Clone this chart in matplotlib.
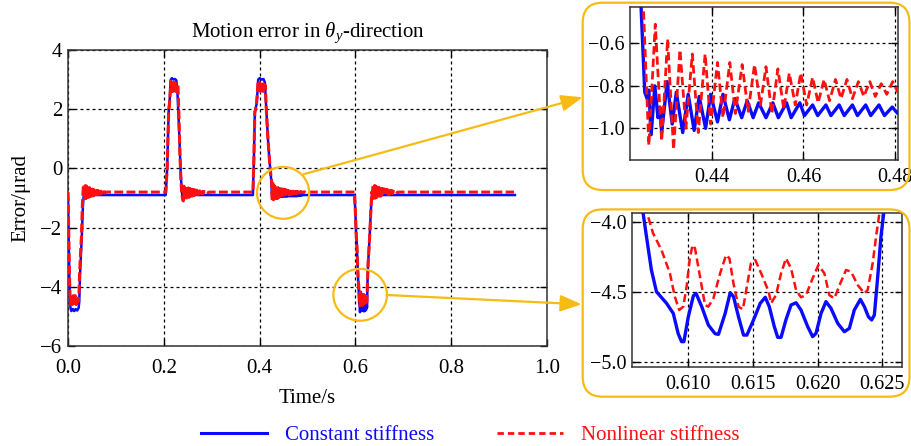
import matplotlib
matplotlib.use("Agg")
import matplotlib.pyplot as plt
import numpy as np
from matplotlib.patches import Ellipse, FancyBboxPatch
from matplotlib.lines import Line2D

plt.rcParams['font.family'] = ['Liberation Serif', 'DejaVu Serif']
plt.rcParams['mathtext.fontset'] = 'custom'
plt.rcParams['mathtext.rm'] = 'Liberation Serif'
plt.rcParams['mathtext.it'] = 'Liberation Serif:italic'

# ---------------- data ----------------
# constant stiffness (blue), by segment
blue_t_dip1 = [0.000, 0.001, 0.002, 0.003, 0.004, 0.005, 0.007, 0.010, 0.013, 0.016, 0.019, 0.022, 0.0235, 0.025, 0.027, 0.029, 0.031, 0.033]
blue_y_dip1 = [-1.0, -2.0, -3.2, -3.9, -4.4, -4.7, -4.82, -4.75, -4.82, -4.75, -4.8, -4.72, -4.5, -3.6, -2.9, -2.2, -1.3, -0.85]
blue_t_ring1 = [0.035, 0.037, 0.039, 0.041, 0.043, 0.045, 0.047, 0.050, 0.053, 0.056, 0.060, 0.204]
blue_y_ring1 = [-1.0, -0.84, -0.98, -0.86, -0.96, -0.87, -0.94, -0.88, -0.93, -0.89, -0.9, -0.9]
blue_t_peak1 = [0.207, 0.210, 0.2125, 0.2145, 0.217, 0.220, 0.223, 0.226, 0.2286, 0.2321, 0.2356, 0.2385]
blue_y_peak1 = [0.0, 1.9, 2.4, 3.0, 3.05, 3.0, 3.02, 2.98, 2.5, 1.2, -0.3, -0.95]
blue_t_ring2 = [0.241, 0.243, 0.245, 0.247, 0.249, 0.252, 0.255, 0.258, 0.262, 0.266, 0.270, 0.386]
blue_y_ring2 = [-1.02, -0.85, -0.99, -0.86, -0.96, -0.87, -0.94, -0.88, -0.92, -0.89, -0.9, -0.9]
blue_t_peak2 = [0.388, 0.390, 0.394, 0.397, 0.400, 0.404, 0.408, 0.411, 0.4139, 0.4174, 0.4195, 0.4225]
blue_y_peak2 = [0.3, 1.9, 2.2, 3.0, 3.05, 3.0, 3.02, 2.9, 2.0, 1.0, 0.5, -0.1]
blue_t_zoom1 = [0.4245, 0.4253, 0.4258, 0.4262, 0.4267, 0.4275, 0.4282, 0.4286, 0.4290,
                0.4302, 0.4313, 0.4318, 0.4322, 0.4336, 0.4348, 0.4361, 0.4372, 0.4386, 0.4397,
                0.4412, 0.4424, 0.4438, 0.4450, 0.4465, 0.4477, 0.4490, 0.4502, 0.4518, 0.4533,
                0.4545, 0.4563, 0.4573, 0.4592, 0.4602, 0.4620, 0.4631, 0.4649, 0.4660, 0.4678,
                0.4689, 0.4707, 0.4718, 0.4736, 0.4747, 0.4765, 0.4777, 0.4794, 0.4806]
blue_y_zoom1 = [-0.43, -0.83, -0.86, -0.82, -1.03, -0.80, -0.95, -0.90, -1.02,
                -0.78, -0.98, -0.90, -0.83, -1.02, -0.84, -1.01, -0.85, -1.00, -0.84,
                -0.97, -0.84, -0.96, -0.86, -0.95, -0.87, -0.95, -0.88, -0.95, -0.88,
                -0.95, -0.88, -0.95, -0.88, -0.94, -0.89, -0.94, -0.89, -0.94, -0.89,
                -0.94, -0.89, -0.94, -0.89, -0.94, -0.89, -0.94, -0.90, -0.93]
blue_t_tail = [0.4820, 0.4835, 0.4850, 0.4870, 0.4900, 0.5980]
blue_y_tail = [-0.91, -0.93, -0.90, -0.92, -0.90, -0.90]
blue_t_lead3 = [0.6000, 0.6015, 0.6030, 0.6045, 0.6058]
blue_y_lead3 = [-1.5, -2.2, -2.6, -3.3, -3.8]
blue_t_zoom2 = [0.60651, 0.60677, 0.60715, 0.60754, 0.60832, 0.60884, 0.60922, 0.60948, 0.60966, 0.6100,
                0.61039, 0.6106, 0.61104, 0.61155, 0.61207, 0.61233, 0.61285, 0.61324, 0.6135, 0.61388,
                0.61427, 0.61453, 0.61505, 0.61556, 0.61595, 0.61626, 0.61665, 0.61691, 0.61717, 0.61755,
                0.61794, 0.61833, 0.61871, 0.61923, 0.61961, 0.61987, 0.62026, 0.62064, 0.62103, 0.62155,
                0.62206, 0.62245, 0.62283, 0.6233, 0.62361, 0.62392, 0.62417, 0.62438, 0.62464, 0.62489, 0.6251]
blue_y_zoom2 = [-3.94, -4.107, -4.345, -4.5, -4.583, -4.655, -4.80, -4.857, -4.857, -4.68,
                -4.53, -4.512, -4.607, -4.738, -4.80, -4.805, -4.655, -4.507, -4.536, -4.679,
                -4.81, -4.81, -4.70, -4.583, -4.54, -4.607, -4.75, -4.826, -4.826, -4.70,
                -4.595, -4.579, -4.631, -4.75, -4.821, -4.798, -4.655, -4.571, -4.619, -4.726,
                -4.786, -4.762, -4.631, -4.555, -4.607, -4.679, -4.702, -4.667, -4.393, -4.107, -3.94]
blue_t_rise3 = [0.6265, 0.6280, 0.6300, 0.6320, 0.6340, 0.6360, 0.6380, 0.6400, 0.6430, 0.6460, 0.6500, 0.9330]
blue_y_rise3 = [-3.2, -2.8, -2.2, -1.5, -0.95, -0.85, -0.97, -0.86, -0.94, -0.88, -0.9, -0.9]

# nonlinear stiffness (red), by segment
red_t_dip1 = [0.000, 0.001, 0.002, 0.003, 0.004, 0.005, 0.007, 0.009, 0.011, 0.013, 0.015, 0.017, 0.019, 0.021, 0.023, 0.024, 0.026, 0.028, 0.030, 0.032]
red_y_dip1 = [-0.8, -1.8, -3.0, -3.6, -4.2, -4.6, -4.3, -4.6, -4.3, -4.55, -4.3, -4.6, -4.35, -4.5, -4.2, -3.6, -2.9, -2.3, -1.2, -0.6]
red_t_ring1 = [0.0330, 0.0345, 0.0360, 0.0375, 0.0390, 0.0405, 0.0420, 0.0435, 0.0450, 0.0465,
               0.0480, 0.0495, 0.0510, 0.0525, 0.0540, 0.0555, 0.0570, 0.0585, 0.0600, 0.0615,
               0.0630, 0.0645, 0.0660, 0.0675, 0.0690, 0.0705, 0.0720, 0.0735, 0.0750, 0.0765,
               0.0780, 0.0800, 0.2040]
red_y_ring1 = [-0.55, -1.00, -0.58, -1.02, -0.60, -0.98, -0.63, -0.97, -0.65, -0.95,
               -0.68, -0.93, -0.70, -0.92, -0.72, -0.90, -0.73, -0.89, -0.74, -0.88,
               -0.75, -0.87, -0.76, -0.86, -0.77, -0.85, -0.78, -0.84, -0.79, -0.83,
               -0.80, -0.80, -0.80]
red_t_peak1 = [0.2070, 0.2100, 0.2125, 0.2145, 0.2160, 0.2175, 0.2190, 0.2205, 0.2220, 0.2235, 0.2250, 0.2265, 0.2280, 0.2295, 0.2315, 0.2335, 0.2355, 0.2375]
red_y_peak1 = [0.0, 1.9, 2.3, 2.95, 2.6, 2.9, 2.6, 2.9, 2.65, 2.9, 2.6, 2.85, 2.6, 2.8, 1.8, 0.5, -0.3, -0.9]
red_t_ring2 = [0.2405, 0.2420, 0.2435, 0.2450, 0.2465, 0.2480, 0.2495, 0.2510, 0.2525, 0.2540,
               0.2555, 0.2570, 0.2585, 0.2600, 0.2615, 0.2630, 0.2645, 0.2660, 0.2675, 0.2690,
               0.2705, 0.2720, 0.2735, 0.2750, 0.2765, 0.2780, 0.2795, 0.2810, 0.2825, 0.2840,
               0.2870, 0.2900, 0.2930, 0.2960, 0.3860]
red_y_ring2 = [-1.10, -0.60, -1.08, -0.62, -1.05, -0.64, -1.00, -0.66, -0.98, -0.68,
               -0.96, -0.70, -0.94, -0.71, -0.92, -0.72, -0.90, -0.73, -0.89, -0.74,
               -0.88, -0.75, -0.87, -0.76, -0.86, -0.77, -0.85, -0.78, -0.84, -0.78,
               -0.83, -0.79, -0.82, -0.80, -0.80]
red_t_peak2 = [0.3880, 0.3900, 0.3930, 0.3950, 0.3970, 0.3985, 0.4000, 0.4015, 0.4030, 0.4045, 0.4060, 0.4075, 0.4090, 0.4105, 0.4120, 0.4139, 0.4174, 0.4195, 0.4225]
red_y_peak2 = [0.3, 1.9, 2.1, 2.5, 2.95, 2.6, 2.9, 2.6, 2.9, 2.65, 2.85, 2.6, 2.85, 2.6, 2.8, 2.0, 1.0, 0.5, -0.1]
red_t_zoom1 = [0.4250, 0.4262, 0.4276, 0.4290, 0.4303, 0.4316, 0.4330, 0.4343, 0.4357, 0.4370,
               0.4385, 0.4397, 0.4412, 0.4424, 0.4439, 0.4451, 0.4466, 0.4479, 0.4493, 0.4506,
               0.4518, 0.4531, 0.4544, 0.4557, 0.4569, 0.4582, 0.4594, 0.4607, 0.4620, 0.4632,
               0.4645, 0.4657, 0.4670, 0.4682, 0.4695, 0.4707, 0.4720, 0.4732, 0.4745, 0.4757,
               0.4770, 0.4782, 0.4795, 0.4806]
red_y_zoom1 = [-0.43, -1.08, -0.51, -1.06, -0.58, -1.10, -0.63, -1.00, -0.65, -1.02,
               -0.65, -0.98, -0.69, -0.95, -0.69, -0.93, -0.70, -0.92, -0.70, -0.89,
               -0.71, -0.93, -0.72, -0.91, -0.74, -0.89, -0.74, -0.89, -0.76, -0.88,
               -0.77, -0.87, -0.77, -0.86, -0.77, -0.86, -0.78, -0.85, -0.78, -0.85,
               -0.79, -0.84, -0.78, -0.83]
red_t_tail = [0.4820, 0.4832, 0.4845, 0.4857, 0.4870, 0.4900, 0.4930, 0.4960, 0.5000, 0.5980]
red_y_tail = [-0.79, -0.83, -0.79, -0.82, -0.79, -0.82, -0.79, -0.81, -0.80, -0.80]
red_t_lead3 = [0.6000, 0.6015, 0.6030, 0.6045, 0.6058]
red_y_lead3 = [-1.5, -2.2, -2.6, -3.3, -3.8]
red_t_zoom2 = [0.60682, 0.60728, 0.60793, 0.60858, 0.60896, 0.6093, 0.60961, 0.60987, 0.61013, 0.61034,
               0.61052, 0.61091, 0.61129, 0.61155, 0.61194, 0.61246, 0.61292, 0.61318, 0.61349, 0.61388,
               0.61422, 0.61453, 0.61484, 0.61518, 0.61569, 0.61621, 0.6164, 0.61678, 0.61717, 0.61755,
               0.61794, 0.61833, 0.61871, 0.6191, 0.61961, 0.62005, 0.62052, 0.6209, 0.62129, 0.62175,
               0.62219, 0.62258, 0.62309, 0.62361, 0.62386, 0.62425, 0.62451, 0.62477]
red_y_zoom2 = [-3.94, -4.083, -4.202, -4.369, -4.536, -4.631, -4.607, -4.464, -4.25, -4.167,
               -4.19, -4.393, -4.595, -4.607, -4.548, -4.369, -4.238, -4.262, -4.44, -4.607,
               -4.626, -4.464, -4.298, -4.274, -4.381, -4.5, -4.583, -4.524, -4.369, -4.262,
               -4.333, -4.488, -4.54, -4.524, -4.405, -4.31, -4.369, -4.524, -4.548, -4.44,
               -4.345, -4.357, -4.452, -4.512, -4.488, -4.298, -4.107, -3.94]
red_t_rise3 = [0.6265, 0.6280, 0.6300, 0.6320, 0.6340]
red_y_rise3 = [-3.2, -2.8, -2.2, -1.5, -0.8]
red_t_ring3 = [0.6355, 0.6370, 0.6385, 0.6400, 0.6415, 0.6430, 0.6445, 0.6460, 0.6475, 0.6490,
               0.6505, 0.6520, 0.6535, 0.6550, 0.6565, 0.6580, 0.6595, 0.6610, 0.6625, 0.6640,
               0.6655, 0.6670, 0.6685, 0.6700, 0.6715, 0.6730, 0.6745, 0.6760, 0.6775, 0.6790,
               0.6820, 0.6850, 0.6880, 0.6910, 0.9310]
red_y_ring3 = [-1.02, -0.56, -1.05, -0.58, -1.00, -0.60, -0.98, -0.62, -0.96, -0.64,
               -0.94, -0.66, -0.93, -0.68, -0.92, -0.69, -0.91, -0.70, -0.90, -0.71,
               -0.89, -0.72, -0.88, -0.73, -0.87, -0.74, -0.86, -0.75, -0.85, -0.77,
               -0.83, -0.78, -0.82, -0.80, -0.80]

labels = ['Constant stiffness', 'Nonlinear stiffness']
main_xticks = [0.0, 0.2, 0.4, 0.6, 0.8, 1.0]
main_yticks = [-6, -4, -2, 0, 2, 4]
zoom1_xticks = [0.44, 0.46, 0.48]
zoom1_yticks = [-1.0, -0.8, -0.6]
zoom2_xticks = [0.610, 0.615, 0.620, 0.625]
zoom2_yticks = [-5.0, -4.5, -4.0]

t_blue = np.concatenate([blue_t_dip1, blue_t_ring1, blue_t_peak1, blue_t_ring2, blue_t_peak2,
                         blue_t_zoom1, blue_t_tail, blue_t_lead3, blue_t_zoom2, blue_t_rise3])
y_blue = np.concatenate([blue_y_dip1, blue_y_ring1, blue_y_peak1, blue_y_ring2, blue_y_peak2,
                         blue_y_zoom1, blue_y_tail, blue_y_lead3, blue_y_zoom2, blue_y_rise3])
t_red = np.concatenate([red_t_dip1, red_t_ring1, red_t_peak1, red_t_ring2, red_t_peak2,
                        red_t_zoom1, red_t_tail, red_t_lead3, red_t_zoom2, red_t_rise3, red_t_ring3])
y_red = np.concatenate([red_y_dip1, red_y_ring1, red_y_peak1, red_y_ring2, red_y_peak2,
                        red_y_zoom1, red_y_tail, red_y_lead3, red_y_zoom2, red_y_rise3, red_y_ring3])

BLUE = '#0a0aff'
RED = '#ff1010'
GOLD = '#f6bb14'

def fmt(v, nd):
    return ('%.*f' % (nd, v)).replace('-', '\u2212')

def style_axes(ax, fs, xpad, ypad):
    ax.grid(True, color='k', lw=0.9, linestyle=(0, (2.4, 2.4)))
    ax.set_axisbelow(True)
    ax.tick_params(direction='in', length=5, width=1, top=True, right=True, labelsize=fs)
    ax.tick_params(axis='x', pad=xpad)
    ax.tick_params(axis='y', pad=ypad)
    for s in ax.spines.values():
        s.set_color('#333333')
        s.set_linewidth(1.1)

fig = plt.figure(figsize=(9.12, 4.46), dpi=100)

# main plot
ax = fig.add_axes([0.0746, 0.2242, 0.5252, 0.6637])
ax.plot(t_blue, y_blue, color=BLUE, lw=1.8, zorder=3)
ax.plot(t_red, y_red, color=RED, lw=2.2, dashes=(2.9, 1.1), zorder=4)
ax.set_xlim(0, 1)
ax.set_ylim(-6, 4)
ax.set_xticks(main_xticks)
ax.set_xticklabels([fmt(v, 1) for v in main_xticks])
ax.set_yticks(main_yticks)
ax.set_yticklabels([fmt(v, 0) for v in main_yticks])
style_axes(ax, 15, 9, 4)
ax.set_title(r'Motion error in $\theta_y$-direction', fontsize=15, pad=9)
ax.set_xlabel('Time/s', fontsize=15, labelpad=8)
ax.set_ylabel('Error/\u03bcrad', fontsize=15, labelpad=7)

ax.add_patch(Ellipse((0.449, -0.826), 0.109, 1.754, fill=False, edgecolor=GOLD, lw=1.6, zorder=6, clip_on=False))
ax.add_patch(Ellipse((0.6099, -4.27), 0.112, 1.754, fill=False, edgecolor=GOLD, lw=1.6, zorder=6, clip_on=False))

# zoom 1
ax1 = fig.add_axes([0.6911, 0.6413, 0.2932, 0.3430])
ax1.plot(t_blue, y_blue, color=BLUE, lw=2.4, zorder=3)
ax1.plot(t_red, y_red, color=RED, lw=2.0, dashes=(3.0, 1.5), zorder=4)
ax1.set_xlim(0.42214, 0.48059)
ax1.set_ylim(-1.149, -0.429)
ax1.set_xticks(zoom1_xticks)
ax1.set_xticklabels([fmt(v, 2) for v in zoom1_xticks])
ax1.set_yticks(zoom1_yticks)
ax1.set_yticklabels([fmt(v, 1) for v in zoom1_yticks])
style_axes(ax1, 14.5, 6, 4)

# zoom 2
ax2 = fig.add_axes([0.6927, 0.1778, 0.2961, 0.3439])
ax2.plot(t_blue, y_blue, color=BLUE, lw=2.4, zorder=3)
ax2.plot(t_red, y_red, color=RED, lw=1.8, dashes=(3.2, 1.6), zorder=4)
ax2.set_xlim(0.60563, 0.6265)
ax2.set_ylim(-5.036, -3.94)
ax2.set_xticks(zoom2_xticks)
ax2.set_xticklabels([fmt(v, 3) for v in zoom2_xticks])
ax2.set_yticks(zoom2_yticks)
ax2.set_yticklabels([fmt(v, 1) for v in zoom2_yticks])
style_axes(ax2, 14.5, 6, 4)

# rounded yellow frames round the zooms (inches from lower left)
for y0 in (2.56, 0.493):
    box = FancyBboxPatch((5.827, y0), 3.268, 1.873, boxstyle='round,pad=0,rounding_size=0.2',
                         transform=fig.dpi_scale_trans, fill=False, edgecolor=GOLD, lw=1.6)
    fig.add_artist(box)

# arrows from circles to the zooms (figure pixels)
H = 446
arrow = dict(arrowstyle='-|>,head_length=1.3,head_width=0.5', color=GOLD, lw=1.6,
             shrinkA=0, shrinkB=0, mutation_scale=10)
ax.annotate('', xy=(582.7, H - 97.3), xytext=(303.3, H - 174.3),
            xycoords='figure pixels', textcoords='figure pixels', arrowprops=arrow)
ax.annotate('', xy=(581.7, H - 304.3), xytext=(386.7, H - 295.0),
            xycoords='figure pixels', textcoords='figure pixels', arrowprops=arrow)

handles = [Line2D([], [], color=BLUE, lw=2.2),
           Line2D([], [], color=RED, lw=2.0, dashes=(2.3, 1.45))]
fig.legend(handles, labels, loc='center', bbox_to_anchor=(0.516, 0.024), ncol=2, frameon=False,
           fontsize=15, handlelength=3.17, handletextpad=0.87, columnspacing=3.0,
           labelcolor='linecolor', borderaxespad=0, borderpad=0)

fig.savefig('out.png', dpi=100)
